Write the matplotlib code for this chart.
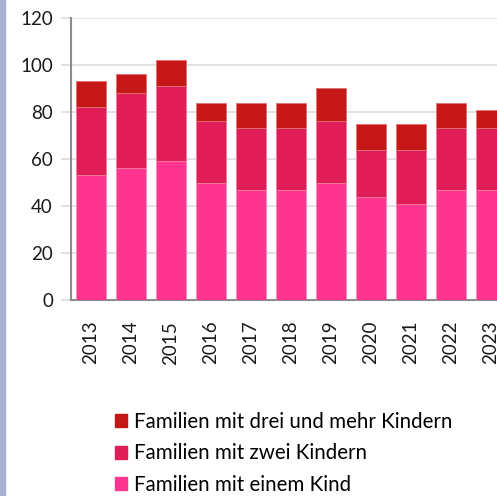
import matplotlib.pyplot as plt
from matplotlib.patches import Rectangle

years = ["2013", "2014", "2015", "2016", "2017", "2018", "2019", "2020", "2021", "2022", "2023"]
ein_kind = [53, 56, 59, 50, 47, 47, 50, 44, 41, 47, 47]
zwei_kinder = [29, 32, 32, 26, 26, 26, 26, 20, 23, 26, 26]
drei_mehr = [11, 8, 11, 8, 11, 11, 14, 11, 11, 11, 8]

labels = ["Familien mit drei und mehr Kindern", "Familien mit zwei Kindern", "Familien mit einem Kind"]
c_ein = "#fe348e"
c_zwei = "#e11d57"
c_drei = "#c51718"

plt.rcParams['font.family'] = ['Lato', 'DejaVu Sans']

fig = plt.figure(figsize=(4.97, 4.96), dpi=100)
W, H = 497, 496
# axes spans past the right edge, like the cropped original
ax = fig.add_axes([71 / W, 1 - 300 / H, 440 / W, 282 / H])

x = list(range(len(years)))
bw = 0.77
b1 = ax.bar(x, ein_kind, width=bw, color=c_ein, edgecolor="#f48cb4", linewidth=0.6, zorder=3)
bottom2 = ein_kind
b2 = ax.bar(x, zwei_kinder, width=bw, bottom=bottom2, color=c_zwei, edgecolor="#ee7aa0", linewidth=0.6, zorder=3)
bottom3 = [a + b for a, b in zip(ein_kind, zwei_kinder)]
b3 = ax.bar(x, drei_mehr, width=bw, bottom=bottom3, color=c_drei, edgecolor="#e07070", linewidth=0.6, zorder=3)

ax.set_xlim(-0.5, len(years) - 0.5)
ax.set_ylim(0, 120)
ax.set_yticks(range(0, 121, 20))
ax.yaxis.grid(True, color="#dddddd", linewidth=1.2, zorder=0)
ax.set_axisbelow(True)
ax.set_xticks(x)
ax.set_xticklabels(years, rotation=90, fontsize=13.5, color="#1a1a1a")
ax.tick_params(axis="x", length=0, pad=15)
ax.tick_params(axis="y", length=7, width=1.2, color="#dddddd", labelsize=13.5, labelcolor="#1a1a1a", pad=6)
for s in ["top", "right"]:
    ax.spines[s].set_visible(False)
ax.spines["left"].set_color("#8c8c8c")
ax.spines["left"].set_linewidth(1.5)
ax.spines["bottom"].set_color("#8c8c8c")
ax.spines["bottom"].set_linewidth(1.5)

handles = [Rectangle((0, 0), 1, 1, color=c) for c in [c_drei, c_zwei, c_ein]]
fig.legend(handles, labels, loc="upper left", bbox_to_anchor=(115 / W, 1 - 412 / H),
           frameon=False, fontsize=14.8, handlelength=0.6, handleheight=0.6,
           handletextpad=0.3, labelspacing=0.55, borderaxespad=0, borderpad=0)

# left border strip
fig.patches.append(Rectangle((0, 0), 5 / W, 1, transform=fig.transFigure, color="#a9b2d3", zorder=5))

fig.savefig("out.png", dpi=100)
